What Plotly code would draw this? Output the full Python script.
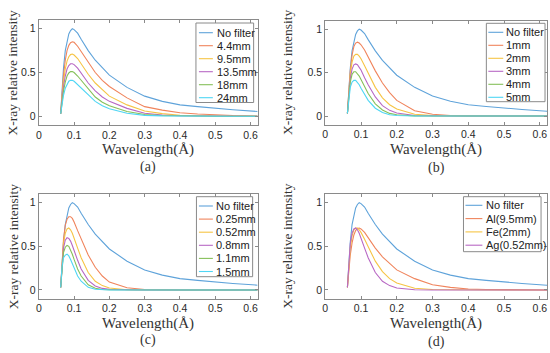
import plotly.graph_objects as go

W, H = 550, 353

# ---------------- data ----------------
wavelength = [0.062, 0.066, 0.07, 0.075, 0.08, 0.085, 0.09, 0.095, 0.1, 0.11, 0.12, 0.14,
              0.16, 0.18, 0.2, 0.25, 0.3, 0.35, 0.4, 0.45, 0.5, 0.55, 0.62]

no_filter = [0.03, 0.30, 0.55, 0.75, 0.87, 0.94, 0.98, 1.00, 0.99, 0.95, 0.88, 0.75,
             0.64, 0.55, 0.47, 0.33, 0.23, 0.17, 0.13, 0.11, 0.09, 0.075, 0.055]

# (a) Al filters
al_4_4 = [0.03, 0.27, 0.47, 0.64, 0.75, 0.81, 0.84, 0.85, 0.845, 0.80, 0.74, 0.61,
          0.50, 0.41, 0.34, 0.21, 0.11, 0.07, 0.04, 0.025, 0.015, 0.008, 0.003]
al_9_5 = [0.03, 0.23, 0.40, 0.54, 0.63, 0.68, 0.705, 0.71, 0.70, 0.66, 0.60, 0.48,
          0.38, 0.30, 0.23, 0.13, 0.06, 0.03, 0.012, 0.006, 0.003, 0.001, 0.0]
al_13_5 = [0.03, 0.20, 0.34, 0.46, 0.54, 0.58, 0.60, 0.60, 0.59, 0.55, 0.49, 0.38,
           0.29, 0.22, 0.17, 0.09, 0.035, 0.015, 0.005, 0.002, 0.001, 0.0, 0.0]
al_18 = [0.03, 0.17, 0.29, 0.39, 0.46, 0.495, 0.51, 0.51, 0.50, 0.46, 0.41, 0.31,
         0.22, 0.16, 0.12, 0.055, 0.02, 0.008, 0.003, 0.001, 0.0, 0.0, 0.0]
al_24 = [0.03, 0.14, 0.24, 0.32, 0.37, 0.40, 0.41, 0.41, 0.40, 0.36, 0.32, 0.24,
         0.17, 0.12, 0.085, 0.035, 0.01, 0.004, 0.001, 0.0, 0.0, 0.0, 0.0]

# (b) Fe filters
fe_1 = [0.03, 0.30, 0.52, 0.70, 0.80, 0.84, 0.85, 0.84, 0.82, 0.76, 0.68, 0.52,
        0.38, 0.27, 0.18, 0.06, 0.02, 0.006, 0.002, 0.0, 0.0, 0.0, 0.0]
fe_2 = [0.03, 0.28, 0.48, 0.62, 0.69, 0.71, 0.71, 0.69, 0.66, 0.58, 0.49, 0.33,
        0.21, 0.13, 0.08, 0.02, 0.005, 0.001, 0.0, 0.0, 0.0, 0.0, 0.0]
fe_3 = [0.03, 0.26, 0.43, 0.54, 0.59, 0.60, 0.59, 0.56, 0.53, 0.44, 0.36, 0.22,
        0.12, 0.065, 0.035, 0.006, 0.001, 0.0, 0.0, 0.0, 0.0, 0.0, 0.0]
fe_4 = [0.03, 0.24, 0.39, 0.48, 0.51, 0.51, 0.49, 0.46, 0.42, 0.34, 0.26, 0.14,
        0.07, 0.03, 0.015, 0.002, 0.0, 0.0, 0.0, 0.0, 0.0, 0.0, 0.0]
fe_5 = [0.03, 0.21, 0.33, 0.39, 0.41, 0.41, 0.39, 0.36, 0.32, 0.25, 0.18, 0.09,
        0.04, 0.015, 0.006, 0.001, 0.0, 0.0, 0.0, 0.0, 0.0, 0.0, 0.0]

# (c) Ag filters
ag_0_25 = [0.03, 0.35, 0.58, 0.74, 0.81, 0.84, 0.84, 0.82, 0.78, 0.68, 0.58, 0.40,
           0.26, 0.16, 0.09, 0.025, 0.006, 0.001, 0.0, 0.0, 0.0, 0.0, 0.0]
ag_0_52 = [0.03, 0.33, 0.53, 0.65, 0.70, 0.71, 0.69, 0.65, 0.60, 0.48, 0.37, 0.20,
           0.10, 0.05, 0.022, 0.003, 0.0, 0.0, 0.0, 0.0, 0.0, 0.0, 0.0]
ag_0_8 = [0.03, 0.31, 0.48, 0.57, 0.60, 0.59, 0.56, 0.51, 0.45, 0.34, 0.24, 0.11,
          0.045, 0.018, 0.007, 0.001, 0.0, 0.0, 0.0, 0.0, 0.0, 0.0, 0.0]
ag_1_1 = [0.03, 0.29, 0.43, 0.49, 0.51, 0.50, 0.46, 0.41, 0.35, 0.24, 0.16, 0.06,
          0.02, 0.006, 0.002, 0.0, 0.0, 0.0, 0.0, 0.0, 0.0, 0.0, 0.0]
ag_1_5 = [0.03, 0.27, 0.37, 0.40, 0.41, 0.39, 0.35, 0.30, 0.25, 0.16, 0.10, 0.03,
          0.008, 0.002, 0.0, 0.0, 0.0, 0.0, 0.0, 0.0, 0.0, 0.0, 0.0]

labels_a = ["No filter", "4.4mm", "9.5mm", "13.5mm", "18mm", "24mm"]
labels_b = ["No filter", "1mm", "2mm", "3mm", "4mm", "5mm"]
labels_c = ["No filter", "0.25mm", "0.52mm", "0.8mm", "1.1mm", "1.5mm"]
labels_d = ["No filter", "Al(9.5mm)", "Fe(2mm)", "Ag(0.52mm)"]
panel_tags = ["(a)", "(b)", "(c)", "(d)"]
x_ticks = [0, 0.1, 0.2, 0.3, 0.4, 0.5, 0.6]
y_ticks = [0, 0.5, 1]

# ---------------- styling ----------------
colors = ["#5fa3da", "#f0845c", "#f6c445", "#b868c4", "#86c05a", "#4fd6f4"]
SANS = "Liberation Sans, Arial, sans-serif"
SERIF = "Liberation Serif, Times New Roman, serif"


def px_x(v):
    return v / W


def px_y(v):
    return 1 - v / H


panels = [
    dict(series=[no_filter, al_4_4, al_9_5, al_13_5, al_18, al_24], labels=labels_a,
         cols=colors, box=(36, 256, 20, 125), ytitle_x=10, xtitle_y=150, tag_y=167,
         leg=(194, 252, 23, 102.5, 197, 211, 213, 32.7, 13.0)),
    dict(series=[no_filter, fe_1, fe_2, fe_3, fe_4, fe_5], labels=labels_b,
         cols=colors, box=(324, 547, 20.5, 124.7), ytitle_x=286, xtitle_y=150, tag_y=168,
         leg=(486, 545, 23.3, 101.7, 488, 503, 504, 32.3, 13.0)),
    dict(series=[no_filter, ag_0_25, ag_0_52, ag_0_8, ag_1_1, ag_1_5], labels=labels_c,
         cols=colors, box=(36, 256, 194, 298.7), ytitle_x=10, xtitle_y=323.5, tag_y=340,
         leg=(194.5, 251, 196.7, 276.7, 197, 211, 212, 206, 13.1)),
    dict(series=[no_filter, al_9_5, fe_2, ag_0_52], labels=labels_d,
         cols=colors[:4], box=(324, 547, 194, 298.7), ytitle_x=286, xtitle_y=323.5, tag_y=342,
         leg=(463, 541, 196.7, 251.7, 465, 482, 483.5, 205.3, 13.3)),
]

fig = go.Figure()
shapes = []
annotations = []
layout_axes = {}

for i, p in enumerate(panels):
    n = i + 1
    xa = "x" if n == 1 else f"x{n}"
    ya = "y" if n == 1 else f"y{n}"
    for vals, lab, col in zip(p["series"], p["labels"], p["cols"]):
        fig.add_trace(go.Scatter(x=wavelength, y=vals, mode="lines", name=lab,
                                 line=dict(color=col, width=1.1), xaxis=xa, yaxis=ya,
                                 showlegend=False))
    x0, x1, y0, y1 = p["box"]
    axis_common = dict(showline=True, linecolor="#8a8a8a", linewidth=1, mirror="ticks",
                       ticks="inside", ticklen=3, tickcolor="#8a8a8a", showgrid=False,
                       zeroline=False, tickfont=dict(family=SANS, size=10.5, color="#2a2a2a"))
    layout_axes["xaxis" if n == 1 else f"xaxis{n}"] = dict(
        domain=[px_x(x0), px_x(x1)], range=[0, 0.62], tickvals=x_ticks,
        anchor=ya, **axis_common)
    layout_axes["yaxis" if n == 1 else f"yaxis{n}"] = dict(
        domain=[px_y(y1), px_y(y0)], range=[-0.1, 1.1], tickvals=y_ticks,
        anchor=xa, **axis_common)

    # axis titles and panel tag
    annotations.append(dict(text="X-ray relative intensity", textangle=-90, showarrow=False,
                            xref="paper", yref="paper", x=px_x(p["ytitle_x"]),
                            y=px_y((y0 + y1) / 2), xanchor="center", yanchor="middle",
                            font=dict(family=SERIF, size=13.5, color="#333")))
    annotations.append(dict(text="Wavelength(Å)", showarrow=False, xref="paper", yref="paper",
                            x=px_x((x0 + x1) / 2), y=px_y(p["xtitle_y"]),
                            xanchor="center", yanchor="middle",
                            font=dict(family=SERIF, size=15, color="#333")))
    annotations.append(dict(text=panel_tags[i], showarrow=False, xref="paper", yref="paper",
                            x=px_x((x0 + x1) / 2), y=px_y(p["tag_y"]),
                            xanchor="center", yanchor="middle",
                            font=dict(family=SERIF, size=14, color="#333")))

    # legend box
    bx0, bx1, by0, by1, lx0, lx1, tx, c0, dy = p["leg"]
    shapes.append(dict(type="rect", xref="paper", yref="paper",
                       x0=px_x(bx0), x1=px_x(bx1), y0=px_y(by1), y1=px_y(by0),
                       line=dict(color="#8a8a8a", width=1), fillcolor="white", layer="above"))
    for k, (lab, col) in enumerate(zip(p["labels"], p["cols"])):
        cy = c0 + k * dy
        shapes.append(dict(type="line", xref="paper", yref="paper",
                           x0=px_x(lx0), x1=px_x(lx1), y0=px_y(cy), y1=px_y(cy),
                           line=dict(color=col, width=1.1), layer="above"))
        annotations.append(dict(text=lab, showarrow=False, xref="paper", yref="paper",
                                x=px_x(tx), y=px_y(cy), xanchor="left", yanchor="middle",
                                font=dict(family=SANS, size=11, color="#222")))

fig.update_layout(width=W, height=H, autosize=False,
                  margin=dict(l=0, r=0, t=0, b=0),
                  paper_bgcolor="white", plot_bgcolor="white",
                  shapes=shapes, annotations=annotations, showlegend=False,
                  **layout_axes)

fig.write_html("out.html",
               config={"displayModeBar": False, "staticPlot": True},
               post_script="document.body.style.margin='0';"
                           "document.body.style.padding='0';"
                           "document.body.style.overflow='hidden';")
